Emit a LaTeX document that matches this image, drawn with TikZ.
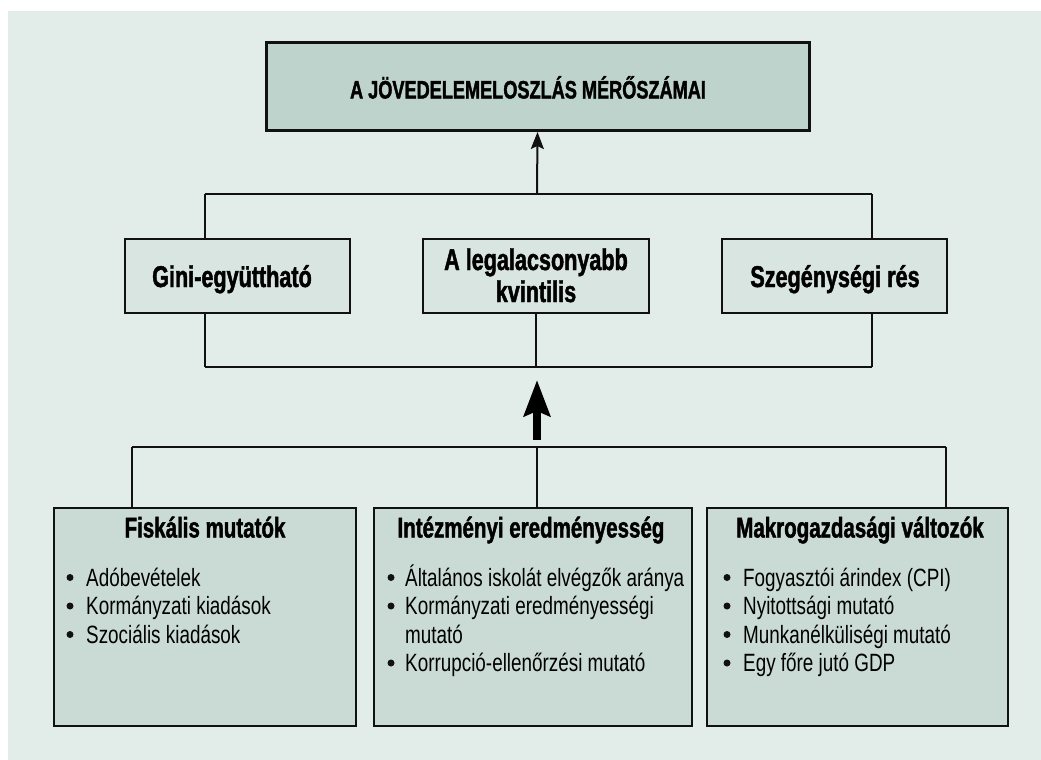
\documentclass[tikz,border=0pt]{standalone}
\usepackage{fontspec}
\setmainfont{Liberation Sans}[FakeStretch=0.755]
\newfontfamily\hfont{Liberation Sans}[FakeStretch=0.72, BoldFeatures={FakeBold=1.5}]
\usetikzlibrary{arrows.meta}
\definecolor{panel}{HTML}{E2ECE9}
\definecolor{topfill}{HTML}{BDD3CB}
\definecolor{midfill}{HTML}{D9E5E1}
\definecolor{botfill}{HTML}{CADBD5}
\definecolor{ink}{HTML}{111111}
\begin{document}
\begin{tikzpicture}[x=1pt,y=-1pt,
  conn/.style={draw=ink, line width=2pt},
  topbox/.style={draw=ink, line width=3pt, fill=topfill, rectangle, inner sep=0pt, minimum width=543pt, minimum height=88pt},
  midbox/.style={draw=ink, line width=2pt, fill=midfill, rectangle, inner sep=0pt, minimum width=225pt, minimum height=74pt},
  botbox/.style={draw=ink, line width=2pt, fill=botfill, rectangle, inner sep=0pt, minimum height=218pt},
  ttl/.style={inner sep=0pt, anchor=base, font=\hfont\bfseries\fontsize{25.2}{28}\selectfont},
  midhead/.style={inner sep=0pt, anchor=base, font=\hfont\bfseries\fontsize{30}{32}\selectfont},
  head/.style={inner sep=0pt, anchor=base, font=\hfont\bfseries\fontsize{28.5}{32}\selectfont},
  item/.style={inner sep=0pt, anchor=base west, font=\fontsize{25}{28}\selectfont},
  dot/.style={fill=ink}
]
\useasboundingbox (0,0) rectangle (1041,760);
\fill[panel] (8,11) rectangle (1041,760);

% boxes
\node[topbox] (top) at (537.5,86.5) {};
\node[midbox] (gini) at (237.5,276) {};
\node[midbox, minimum width=226pt] (mid) at (536,276) {};
\node[midbox] (gap) at (834.5,276) {};
\node[botbox, minimum width=302pt] (fis) at (205,617) {};
\node[botbox, minimum width=318pt] (inst) at (533,617) {};
\node[botbox, minimum width=301pt] (mak) at (857.5,617) {};

% texts
\node[ttl] (ttlt) at (528,98.5) {A JÖVEDELEMELOSZLÁS MÉRŐSZÁMAI};
\node[midhead] (ginit) at (232,287) {Gini-együttható};
\node[midhead] (midt1) at (536,270) {A legalacsonyabb};
\node[midhead] (midt2) at (536,302) {kvintilis};
\node[midhead] (gapt) at (835,287) {Szegénységi rés};

\node[head] (fish) at (205,537.5) {Fiskális mutatók};
\node[head] (insth) at (531,537.5) {Intézményi eredményesség};
\node[head] (makh) at (860,537.5) {Makrogazdasági változók};

% box 1 items
\node[item] (f1) at (86,586) {Adóbevételek};
\node[item] (f2) at (86,614.5) {Kormányzati kiadások};
\node[item] (f3) at (86,643) {Szociális kiadások};
\foreach \y in {586,614.5,643} \fill[dot] (70,\y-8.5) circle (3.5);

% box 2 items
\node[item] (i1) at (405,586) {Általános iskolát elvégzők aránya};
\node[item] (i2) at (405,614.5) {Kormányzati eredményességi};
\node[item] (i2b) at (405,643) {mutató};
\node[item] (i3) at (405,671.5) {Korrupció-ellenőrzési mutató};
\foreach \y in {586,614.5,671.5} \fill[dot] (391,\y-8.5) circle (3.5);

% box 3 items
\node[item] (m1) at (743,586) {Fogyasztói árindex (CPI)};
\node[item] (m2) at (743,614.5) {Nyitottsági mutató};
\node[item] (m3) at (743,643) {Munkanélküliségi mutató};
\node[item] (m4) at (743,671.5) {Egy főre jutó GDP};
\foreach \y in {586,614.5,643,671.5} \fill[dot] (727,\y-8.5) circle (3.5);

% upper bus
\coordinate (u0) at (537,194);
\coordinate (ul) at (205,194);
\coordinate (ur) at (872,194);
\draw[conn] (ul) -- (ur);
\draw[conn] (ul) -- (ul |- gini.north);
\draw[conn] (ur) -- (ur |- gap.north);
\draw[conn, -{Stealth[length=17pt,width=13pt,inset=3pt]}] (u0) -- (top.south);

% lower bus of middle row
\coordinate (ll) at (205,367);
\coordinate (lr) at (872,367);
\draw[conn] (ll) -- (lr);
\draw[conn] (ll |- gini.south) -- (ll);
\draw[conn] (mid.south) -- (mid.south |- ll);
\draw[conn] (lr |- gap.south) -- (lr);

% big arrow
\coordinate (ba0) at (537,440);
\coordinate (ba1) at (537,380);
\draw[draw=black, line width=8pt, -{Stealth[length=36pt,width=26pt,inset=5pt]}] (ba0) -- (ba1);

% bottom bus
\coordinate (bl) at (132,447);
\coordinate (bm) at (537,447);
\coordinate (br) at (946,447);
\draw[conn] (bl) -- (br);
\draw[conn] (bl) -- (bl |- fis.north);
\draw[conn] (bm) -- (bm |- inst.north);
\draw[conn] (br) -- (br |- mak.north);
\end{tikzpicture}
\end{document}
